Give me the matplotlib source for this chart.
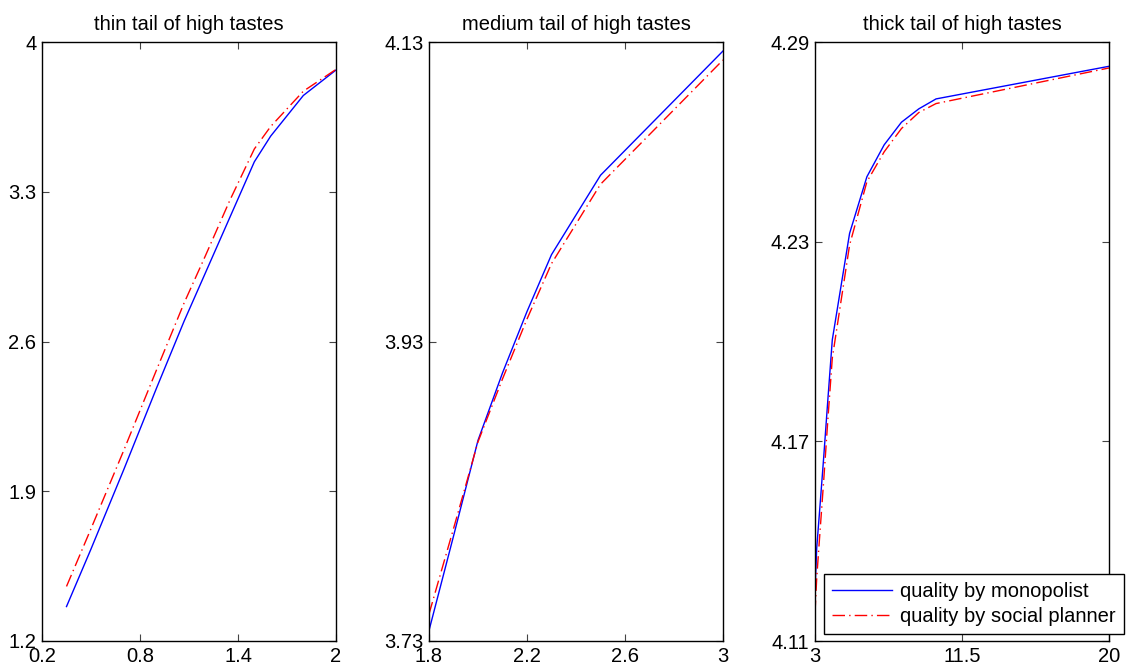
import matplotlib
matplotlib.use("Agg")
import matplotlib.pyplot as plt

plt.rcParams['font.family'] = ['Liberation Sans', 'DejaVu Sans']

# ---- data ----
titles = ["thin tail of high tastes", "medium tail of high tastes", "thick tail of high tastes"]

thin_x = [0.35, 0.5, 0.7, 0.9, 1.07, 1.2, 1.35, 1.5, 1.6, 1.8, 2.0]
thin_mono = [1.361, 1.63, 2.0, 2.38, 2.695, 2.92, 3.18, 3.44, 3.56, 3.75, 3.869]
thin_plan = [1.455, 1.725, 2.09, 2.465, 2.78, 3.0, 3.26, 3.50, 3.605, 3.77, 3.872]

med_x = [1.8, 1.9, 2.0, 2.1, 2.2, 2.3, 2.5, 3.0]
med_mono = [3.737, 3.800, 3.864, 3.909, 3.950, 3.988, 4.041, 4.124]
med_plan = [3.748, 3.805, 3.863, 3.905, 3.945, 3.982, 4.035, 4.118]

thick_x = [3, 3.1, 3.25, 3.5, 3.75, 4, 5, 6, 7, 8, 9, 10, 20]
thick_mono = [4.125, 4.138, 4.148, 4.165, 4.183, 4.2005, 4.2325, 4.2495, 4.2591, 4.2659, 4.2699, 4.2729, 4.2827]
thick_plan = [4.1184, 4.129, 4.140, 4.158, 4.177, 4.195, 4.229, 4.248, 4.257, 4.264, 4.2688, 4.2715, 4.2822]

xlims = [(0.2, 2), (1.8, 3), (3, 20)]
ylims = [(1.2, 4), (3.73, 4.13), (4.11, 4.29)]
xticks = [[0.2, 0.8, 1.4, 2], [1.8, 2.2, 2.6, 3], [3, 11.5, 20]]
xticklabels = [["0.2", "0.8", "1.4", "2"], ["1.8", "2.2", "2.6", "3"], ["3", "11.5", "20"]]
yticks = [[1.2, 1.9, 2.6, 3.3, 4], [3.73, 3.93, 4.13], [4.11, 4.17, 4.23, 4.29]]
yticklabels = [["1.2", "1.9", "2.6", "3.3", "4"], ["3.73", "3.93", "4.13"], ["4.11", "4.17", "4.23", "4.29"]]
legend_labels = ["quality by monopolist", "quality by social planner"]

series = [(thin_x, thin_mono, thin_plan), (med_x, med_mono, med_plan), (thick_x, thick_mono, thick_plan)]

W, H = 1126, 669
fig = plt.figure(figsize=(W / 100, H / 100), dpi=100)
lefts = [42, 429, 815]
axw, axh = 294, 599
bottom_px = 641

FS = 14.5
for i in range(3):
    ax = fig.add_axes([lefts[i] / W, (H - bottom_px) / H, axw / W, axh / H])
    x, m, p = series[i]
    l1, = ax.plot(x, m, color=(0, 0, 1), lw=1.0, solid_joinstyle='miter')
    l2, = ax.plot(x, p, color=(1, 0, 0), lw=1.0, dashes=[9, 3, 1, 3])
    ax.set_xlim(*xlims[i])
    ax.set_ylim(*ylims[i])
    ax.set_xticks(xticks[i])
    ax.set_xticklabels(xticklabels[i])
    ax.set_yticks(yticks[i])
    ax.set_yticklabels(yticklabels[i])
    ax.tick_params(direction='in', length=5, width=0.8, top=True, right=True,
                   labelsize=FS, color='#444444')
    ax.tick_params(axis='y', pad=4)
    ax.tick_params(axis='x', pad=4)
    for s in ax.spines.values():
        s.set_linewidth(1.0)
        s.set_color('black')
    ax.set_title(titles[i], fontsize=FS, pad=9)
    if i == 2:
        leg = ax.legend([l1, l2], legend_labels, loc='lower right',
                        bbox_to_anchor=((1124 - 815) / axw, (641 - 634) / axh),
                        borderaxespad=0, fontsize=FS, frameon=True, fancybox=False,
                        handlelength=3.0, handletextpad=0.4, borderpad=0.4,
                        labelspacing=0.3)
        fr = leg.get_frame()
        fr.set_edgecolor('black')
        fr.set_linewidth(1.0)
        fr.set_alpha(1)

fig.savefig("out.png", dpi=100)
